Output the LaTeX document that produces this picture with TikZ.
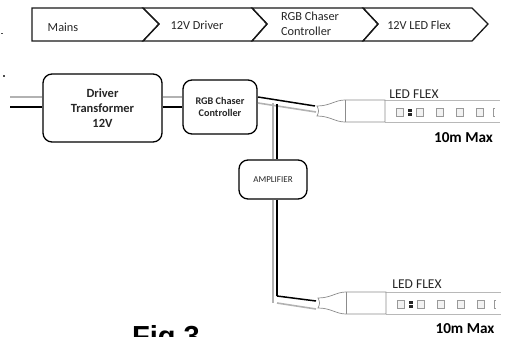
\documentclass[tikz,border=0pt]{standalone}
\usepackage{fontspec}
\setmainfont{Carlito}
\newfontfamily\figfont{Liberation Sans}
\tikzset{
  x=1pt,y=-1pt,
  chevron/.style={draw=black!90,line width=1.3pt,line join=miter},
  rbox/.style={draw=black,line width=1.3pt,rounded corners=9pt,fill=white,align=center,inner sep=0pt,text=black!85},
  wireK/.style={draw=black,line width=1.5pt},
  wireG/.style={draw=black!30,line width=1.6pt},
  fitting/.style={draw=black!45,line width=.7pt,fill=white},
  strip/.style={draw=black!28,line width=.9pt},
  led/.style={draw=black!40,line width=.8pt,fill=black!5},
  lab/.style={inner sep=0pt,text=black!85}
}
\begin{document}
\begin{tikzpicture}
\useasboundingbox (0,0) rectangle (506,337);
\fill[white] (0,0) rectangle (506,337);
% stray marks
\fill[black!70] (1,33) rectangle (3,34);
\fill[black!70] (3,75) rectangle (5,77);
% chevron band
\draw[chevron] (143,8) -- (252,8) -- (267,24) -- (252,41) -- (143,41) -- (159,24) -- cycle;
\draw[chevron] (252,8) -- (363,8) -- (378,24) -- (363,41) -- (252,41) -- (267,24) -- cycle;
\draw[chevron] (363,8) -- (472,8) -- (488,24) -- (472,41) -- (363,41) -- (378,24) -- cycle;
\draw[chevron] (32,8) -- (143,8) -- (159,24) -- (143,41) -- (32,41) -- cycle;
\node[lab,font=\fontsize{12.3}{14}\selectfont] (t1) at (63,27) {Mains};
\node[lab,font=\fontsize{12.3}{14}\selectfont] (t2) at (197,25) {12V Driver};
\node[lab,font=\fontsize{12.3}{15}\selectfont,align=left] (t3) at (310,23.5) {RGB Chaser\\Controller};
\node[lab,font=\fontsize{12.3}{14}\selectfont] (t4) at (419,25) {12V LED Flex};
% named boxes
\node[rbox,minimum width=119,minimum height=68,font=\bfseries\fontsize{12.5}{15}\selectfont] (driver) at (102.5,108) {Driver\\Transformer\\12V};
\node[rbox,minimum width=74,minimum height=54,font=\bfseries\fontsize{10.2}{12.5}\selectfont] (rgb) at (220,107) {RGB Chaser\\Controller};
\node[rbox,minimum width=68,minimum height=39,font=\fontsize{9}{10}\selectfont] (amp) at (273,179.5) {AMPLIFIER};
% free ends
\coordinate (inG) at (10,97);
\coordinate (inK) at (10,107);
\coordinate (startK) at (258,97);
\coordinate (startG) at (258,103);
\coordinate (endG1) at (316,112);
\coordinate (endK1) at (315,106);
\coordinate (endG2) at (316,309);
\coordinate (endK2) at (316,301);
\coordinate (jG1) at (273,103);
\coordinate (jK1) at (277,104);
\coordinate (jG2) at (273,303);
\coordinate (jK2) at (277,296);
\coordinate (jG3) at (277,303);
% wires
\draw[wireG] (inG) -- (inG -| driver.west);
\draw[wireK] (inK) -- (inK -| driver.west);
\draw[wireG] (driver.east |- inG) -- (rgb.west |- inG);
\draw[wireK] (driver.east |- inK) -- (rgb.west |- inK);
\draw[wireG] (startG) -- (endG1);
\draw[wireK] (startK) -- (endK1);
\draw[wireG] (jG1) -- (jG1 |- amp.north);
\draw[wireK] (jK1) -- (jK1 |- amp.north);
\draw[wireG] (jG1 |- amp.south) -- (jG2);
\draw[wireK] (jK1 |- amp.south) -- (jK2);
\draw[wireG] (jG3) -- (endG2);
\draw[wireK] (jK2) -- (endK2);
% LED strips
\foreach \dy/\dx in {0/0,192/1}{
 \begin{scope}[shift={(\dx,\dy)}]
  \draw[strip] (385,100) -- (500,100);
  \draw[strip] (385,122) -- (500,122);
  \draw[fitting] (317,106) .. controls (330,106) and (335,100) .. (345,100) -- (385,100) -- (385,122) -- (345,122) .. controls (335,122) and (330,116) .. (317,116) .. controls (319,112) and (319,110) .. (317,106) -- cycle;
  \draw[fitting] (345,100) -- (345,122);
  \foreach \x in {396,416,436,456,476}{
    \draw[led] (\x,108.5) rectangle +(7.5,7.5);
  }
  \fill[black!85] (408,108.5) rectangle (412,111.5);
  \fill[black!85] (408,113) rectangle (412,116);
  \draw[led,fill=none] (495,108.5) -- (493,108.5) -- (493,116) -- (495,116);
 \end{scope}
}
\node[lab,font=\fontsize{13.5}{15}\selectfont] (flex1) at (414,94) {LED FLEX};
\node[lab,font=\fontsize{13.5}{15}\selectfont] (flex2) at (417,284) {LED FLEX};
\node[lab,text=black,font=\bfseries\fontsize{15.2}{17}\selectfont] (max1) at (463.5,138) {10m Max};
\node[lab,text=black,font=\bfseries\fontsize{15.2}{17}\selectfont] (max2) at (465,329) {10m Max};
\node[inner sep=0pt,anchor=base,text=black,font=\figfont\bfseries\fontsize{29}{30}\selectfont] (fig) at (166,346) {Fig 3};
\end{tikzpicture}
\end{document}
